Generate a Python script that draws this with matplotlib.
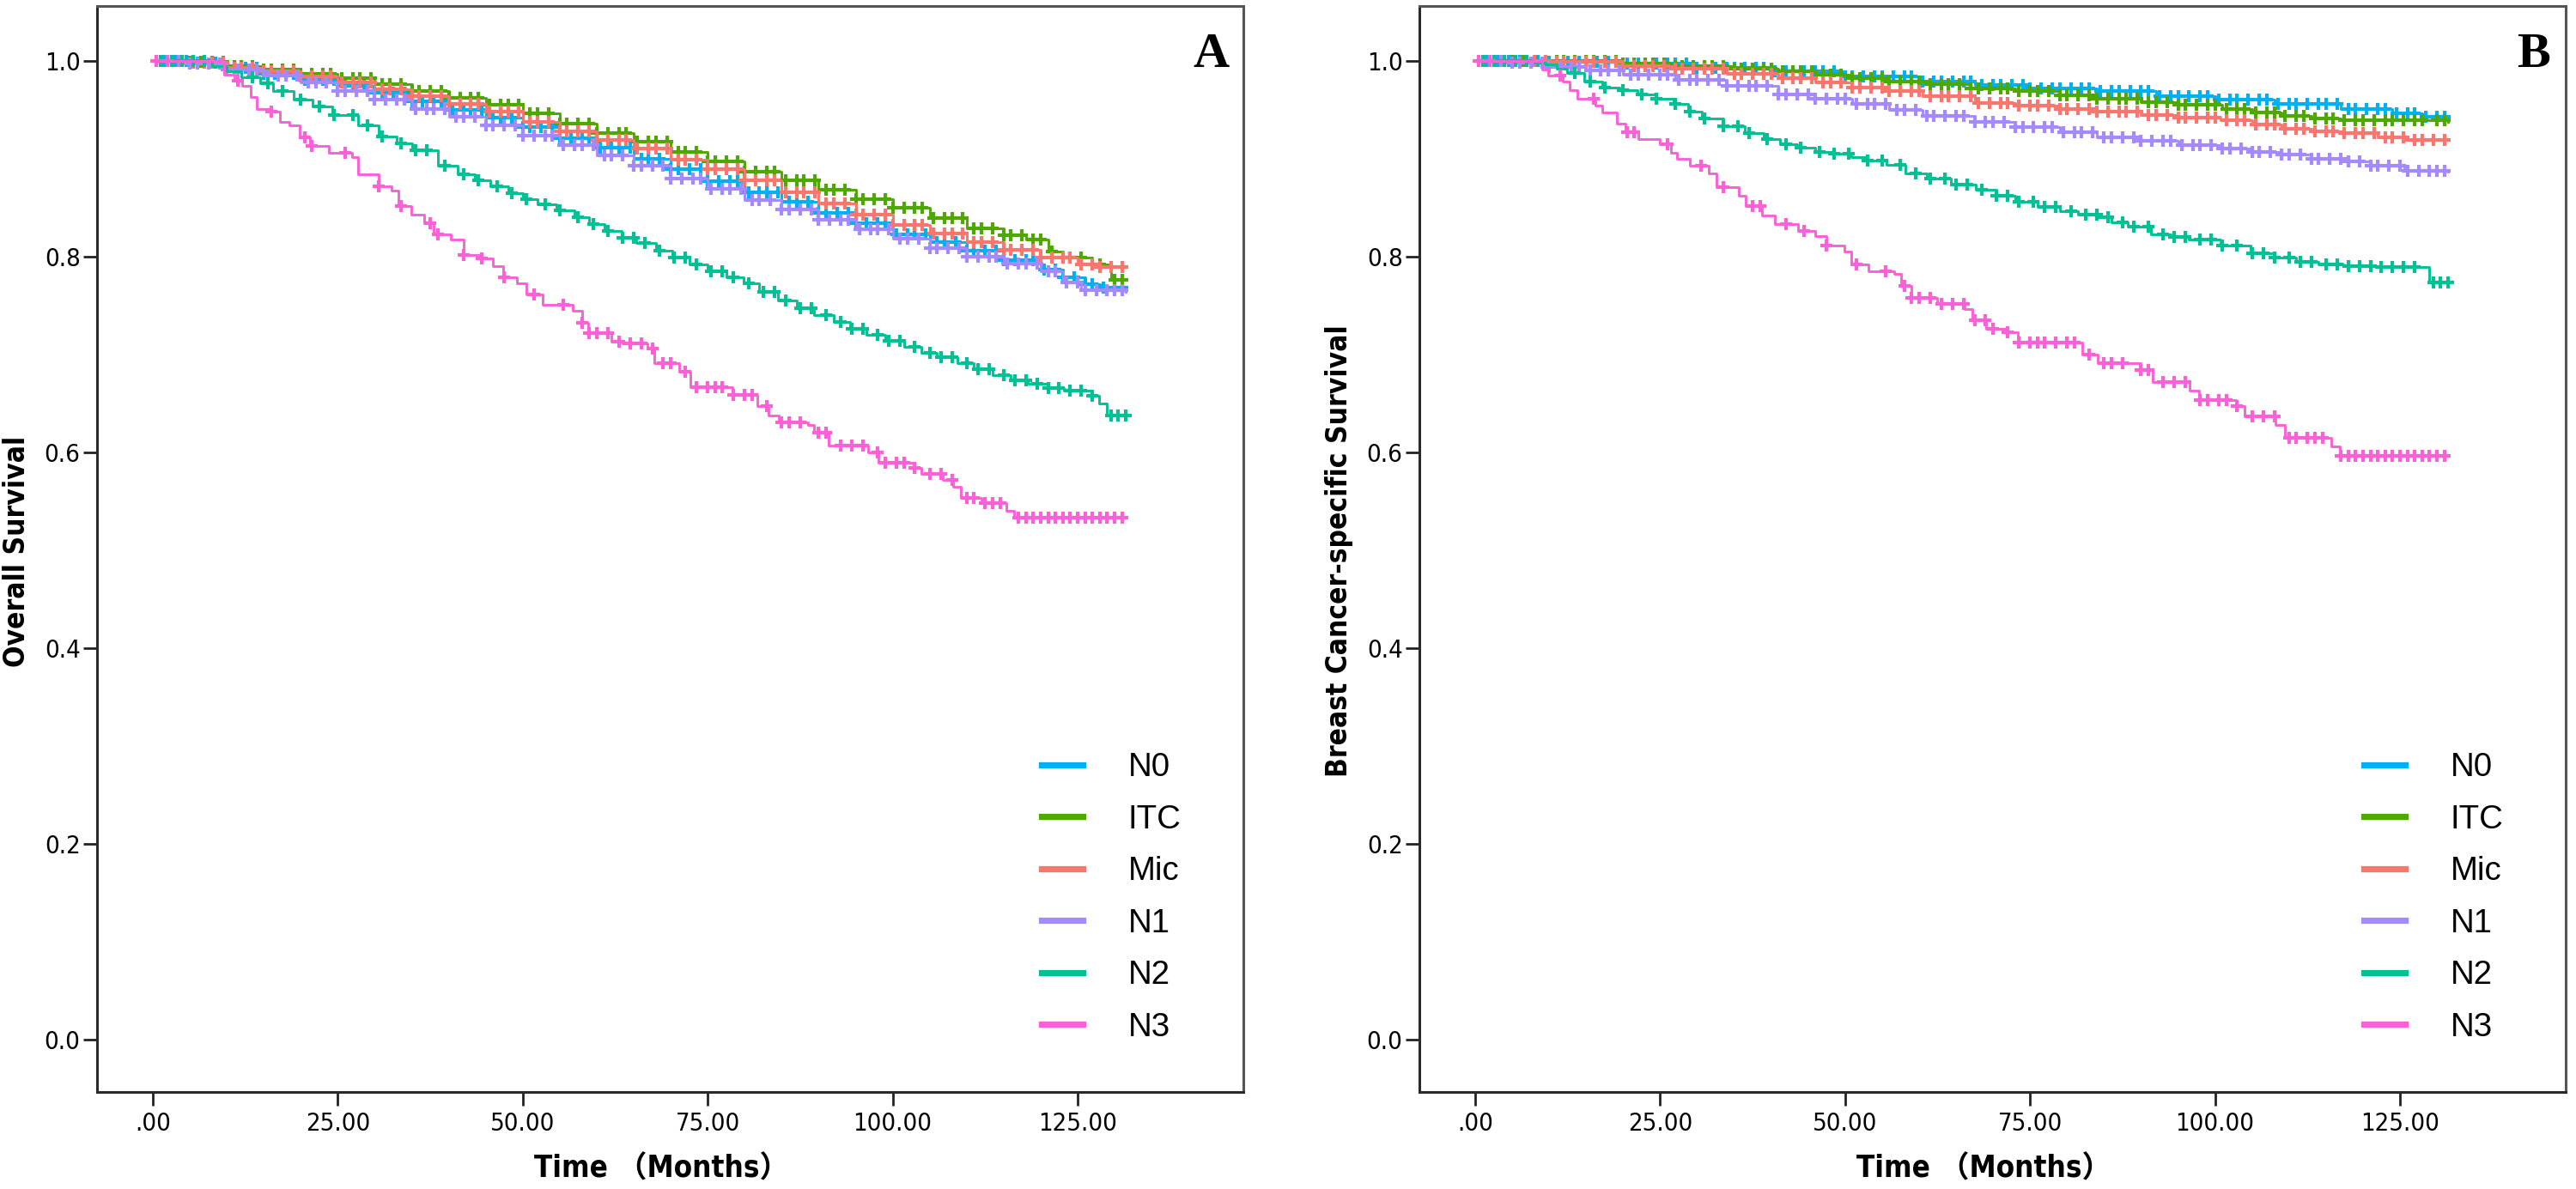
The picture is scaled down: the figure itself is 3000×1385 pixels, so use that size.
import numpy as np
import matplotlib
matplotlib.use("Agg")
import matplotlib.pyplot as plt
from matplotlib.lines import Line2D
from matplotlib import font_manager as fm

# ---------------- data ----------------
groups = ["N0", "ITC", "Mic", "N1", "N2", "N3"]
colors = ["#00B0F0", "#4FA800", "#F8766D", "#A58AFF", "#00C094", "#FB61D7"]

# Panel A: Overall survival (step times, survival)
A_N0_t = [0, 5, 10, 15, 20, 25, 30, 35, 40, 45, 50, 55, 60, 65, 70, 75, 80, 85, 90, 95, 100, 105, 110, 115, 120, 123, 126, 128, 131.5]
A_N0_s = [1.0, .998, .993, .987, .981, .974, .967, .959, .950, .942, .932, .921, .911, .900, .889, .877, .866, .856, .845, .834, .823, .815, .806, .796, .787, .779, .772, .768, .765]
A_ITC_t = [0, 5, 10, 15, 20, 25, 30, 35, 40, 45, 50, 55, 60, 65, 70, 75, 80, 85, 90, 95, 100, 105, 110, 115, 118, 121, 123, 127, 129.5, 131.5]
A_ITC_s = [1.0, .999, .995, .991, .987, .982, .976, .969, .962, .955, .946, .936, .926, .917, .907, .897, .887, .878, .868, .859, .850, .839, .829, .822, .817, .805, .799, .792, .776, .776]
A_Mic_t = [0, 5, 10, 15, 20, 25, 30, 35, 40, 45, 50, 55, 60, 65, 70, 75, 80, 85, 90, 95, 100, 105, 110, 115, 120, 125, 128, 131.5]
A_Mic_s = [1.0, .998, .993, .989, .984, .978, .971, .964, .956, .948, .938, .928, .919, .910, .899, .889, .878, .866, .854, .843, .832, .824, .815, .807, .799, .792, .789, .789]
A_N1_t = [0, 5, 10, 15, 20, 25, 30, 35, 40, 45, 50, 55, 60, 65, 70, 75, 80, 85, 90, 95, 100, 105, 110, 115, 120, 123, 125.5, 131.5]
A_N1_s = [1.0, .997, .991, .985, .978, .969, .960, .951, .943, .934, .924, .914, .903, .893, .880, .869, .858, .848, .838, .828, .818, .809, .800, .793, .785, .774, .766, .764]
A_N2_t = [0, 8, 10, 12, 14.5, 16.3, 19, 21.6, 24.3, 27.8, 30.5, 33, 35, 38.5, 41.2, 43.5, 45.6, 48, 50, 52, 54.5, 57, 59, 61, 63.4, 65.4, 68, 70.2, 72.5, 75, 77.5, 79.8, 82, 84.5, 87, 89.4, 92, 94.2, 96.5, 99, 101.5, 103.9, 106, 108.7, 111, 113.5, 116, 118.3, 121, 123.1, 127, 127.9, 128.9, 131.5]
A_N2_s = [1.0, .995, .989, .983, .977, .969, .960, .953, .945, .934, .923, .916, .909, .893, .884, .878, .872, .865, .859, .853, .847, .840, .833, .826, .819, .814, .806, .799, .792, .785, .779, .773, .764, .755, .747, .740, .733, .726, .720, .714, .708, .702, .697, .691, .685, .679, .674, .670, .666, .663, .658, .650, .638, .638]
A_N3_t = [0, 9.6, 11, 12.1, 13.2, 14.1, 15.8, 17.2, 18.5, 19.8, 21.2, 23.8, 26.9, 27.8, 30.5, 32.3, 33.2, 34.9, 36.7, 38.0, 40.3, 42.0, 44.3, 46.0, 47.4, 49.2, 50.5, 52.7, 56.7, 58.0, 58.9, 62.0, 63.5, 66.8, 67.8, 71.2, 72.6, 78.4, 81.7, 83.2, 84.6, 88.5, 89.4, 91.4, 96.7, 98.1, 102.9, 103.9, 106.8, 108.2, 109.2, 112.0, 115.4, 116.4, 131.5]
A_N3_s = [1.0, .986, .980, .974, .963, .951, .948, .938, .934, .922, .913, .906, .902, .884, .872, .867, .852, .843, .834, .823, .817, .802, .798, .790, .779, .773, .761, .751, .745, .732, .722, .713, .711, .706, .691, .682, .667, .659, .647, .638, .631, .628, .620, .607, .600, .589, .584, .578, .572, .565, .553, .548, .540, .533, .533]

# Panel B: Breast cancer-specific survival
B_N0_t = [0, 10, 20, 30, 40, 50, 60, 67.5, 75, 84, 92, 100, 108, 117, 124, 128, 131.5]
B_N0_s = [1.0, .999, .997, .993, .989, .984, .979, .975, .972, .969, .964, .960, .956, .951, .946, .943, .942]
B_ITC_t = [0, 10, 20, 27, 35, 41, 46, 51, 56, 61, 67, 73, 79, 84, 90, 95, 101, 105, 109, 113, 117, 131.5]
B_ITC_s = [1.0, .9995, .997, .995, .992, .989, .986, .982, .979, .976, .972, .969, .965, .961, .958, .955, .951, .947, .944, .941, .939, .938]
B_Mic_t = [0, 10, 20, 27, 34, 41, 46, 51, 56, 60.5, 67.5, 73, 79, 84, 90, 95, 100.7, 105, 109, 113, 117.3, 122, 125.6, 131.5]
B_Mic_s = [1.0, .999, .995, .992, .987, .982, .978, .973, .969, .964, .957, .954, .951, .948, .945, .942, .939, .935, .931, .928, .926, .922, .919, .919]
B_N1_t = [0, 5, 10, 15, 20, 27, 34, 41, 46, 51, 56, 60.5, 67.5, 73, 79, 84, 90, 95, 100.7, 105, 109, 113, 117.3, 121, 125.6, 131.5]
B_N1_s = [1.0, .998, .994, .990, .986, .981, .974, .966, .961, .956, .950, .944, .938, .932, .927, .922, .918, .914, .910, .907, .904, .900, .897, .893, .888, .887]
B_N2_t = [0, 8, 9.5, 11, 12.4, 14.8, 17.2, 19.5, 21.9, 24.5, 26.8, 28.8, 30.6, 33.5, 36.4, 39, 41.2, 43.5, 46, 48.5, 50.8, 53, 55.6, 58.1, 61, 64.3, 67.7, 70.5, 73, 76, 79, 81.5, 84.1, 86, 88.2, 91.3, 94, 96.5, 100.7, 104.8, 108, 111, 114, 117.3, 122, 128.9, 131.5]
B_N2_s = [1.0, .998, .996, .992, .988, .979, .973, .970, .966, .961, .956, .948, .941, .933, .926, .920, .915, .911, .907, .905, .902, .898, .894, .885, .880, .874, .868, .862, .856, .851, .846, .843, .840, .835, .831, .823, .820, .817, .811, .803, .799, .795, .792, .790, .789, .774, .774]
B_N3_t = [0, 9.0, 9.9, 11.9, 12.8, 13.8, 16.2, 17.2, 19.1, 20.3, 22.0, 24.9, 26.5, 27.3, 29.0, 31.6, 32.6, 35.6, 36.6, 38.8, 40.5, 43.6, 46.0, 47.5, 49.9, 50.8, 53.2, 56.6, 57.6, 59.0, 62.4, 66.2, 67.2, 69.1, 71.7, 73.3, 82.1, 84.1, 89.9, 91.6, 96.6, 97.8, 102.8, 104.0, 108.2, 109.4, 115.7, 116.9, 131.5]
B_N3_s = [1.0, .991, .985, .979, .970, .961, .954, .947, .936, .927, .920, .915, .906, .900, .893, .885, .871, .862, .852, .842, .833, .826, .821, .811, .805, .792, .785, .782, .770, .758, .752, .746, .735, .726, .723, .712, .700, .691, .684, .672, .663, .653, .647, .637, .628, .615, .606, .596, .596]

# Censoring times per group (shared by both endpoints)
cens_N0 = [1.5, 3, 4.5, 6, 7, 8.5, 10, 11, 12.5, 14, 15, 16.5, 18, 19, 20.5, 22, 23, 24.5, 26, 27, 28.5, 30, 31, 32.5, 34, 35, 36.5, 38, 39, 40.5, 42, 43, 44.5, 46, 47, 48.5, 50, 51, 52.5, 54, 55, 56.5, 58, 59, 60.5, 62, 63, 64.5, 66, 67, 68.5, 70, 71, 72.5, 74, 75, 76.5, 78, 79, 80.5, 82, 83, 84.5, 86, 87, 88.5, 90, 91, 92.5, 94, 95, 96.5, 98, 99, 100.5, 102, 103, 104.5, 106, 107, 108.5, 110, 111, 112.5, 114, 115, 116.5, 118, 119, 120.5, 122, 123, 124.5, 126, 127, 128.5, 130, 131]
cens_ITC = [2, 3.5, 5, 6.5, 8, 9.5, 11, 12, 13.5, 15, 16, 17.5, 19, 20, 21.5, 23, 24, 25.5, 27, 28, 29.5, 31, 32, 33.5, 35, 36, 37.5, 39, 40, 41.5, 43, 44, 45.5, 47, 48, 49.5, 51, 52, 53.5, 55, 56, 57.5, 59, 60, 61.5, 63, 64, 65.5, 67, 68, 69.5, 71, 72, 73.5, 75, 76, 77.5, 79, 80, 81.5, 83, 84, 85.5, 87, 88, 89.5, 91, 92, 93.5, 95, 96, 97.5, 99, 100, 101.5, 103, 104, 105.5, 107, 108, 109.5, 111, 112, 113.5, 115, 116, 117.5, 119, 120, 121.5, 123, 124, 125.5, 127, 128, 130, 131]
cens_Mic = [2.5, 4, 5.5, 7, 8, 9.5, 11, 12, 13.5, 15, 16, 17.5, 19, 20, 21.5, 23, 24, 25.5, 27, 28, 29.5, 31, 32, 33.5, 35, 36, 37.5, 39, 40, 41.5, 43, 44, 45.5, 47, 48, 49.5, 51, 52, 53.5, 55, 56, 57.5, 59, 60, 61.5, 63, 64, 65.5, 67, 68, 69.5, 71, 72, 73.5, 75, 76, 77.5, 79, 80, 81.5, 83, 84, 85.5, 87, 88, 89.5, 91, 92, 93.5, 95, 96, 97.5, 99, 100, 101.5, 103, 104, 105.5, 107, 108, 109.5, 111, 112, 113.5, 115, 116, 117.5, 119, 120, 121.5, 123, 124, 125.5, 127, 128, 129.5, 131]
cens_N1 = [1, 2, 3.5, 5, 6, 7.5, 9, 10, 11.5, 13, 14, 15.5, 17, 18, 19.5, 21, 22, 23.5, 25, 26, 27.5, 29, 30, 31.5, 33, 34, 35.5, 37, 38, 39.5, 41, 42, 43.5, 45, 46, 47.5, 49, 50, 51.5, 53, 54, 55.5, 57, 58, 59.5, 61, 62, 63.5, 65, 66, 67.5, 69, 70, 71.5, 73, 74, 75.5, 77, 78, 79.5, 81, 82, 83.5, 85, 86, 87.5, 89, 90, 91.5, 93, 94, 95.5, 97, 98, 99.5, 101, 102, 103.5, 105, 106, 107.5, 109, 110, 111.5, 113, 114, 115.5, 117, 118, 119.5, 121, 122, 123.5, 125, 126, 127.5, 129, 130, 131]
cens_N2 = [1, 2.5, 4, 5.5, 7, 13.5, 15.5, 17.5, 20, 22.5, 24.5, 27, 29, 31, 33.5, 35.5, 37, 39.5, 42, 44, 46.5, 48.5, 50.5, 53, 55, 57.5, 59.5, 61.5, 63.5, 65, 66.5, 68.5, 70.5, 72, 73.5, 75.5, 77, 78.5, 80.5, 82.5, 84, 85.5, 87.5, 89, 91, 93, 94.5, 96, 98, 99.5, 101, 103, 105, 106.5, 108, 110, 111.5, 113, 115, 116.5, 118, 119.5, 121, 122.5, 124, 125.5, 127, 129.5, 130.5, 131.5]
cens_N3 = [0.5, 2, 11.5, 16, 20.5, 21.5, 26, 30.5, 33.5, 37.5, 38.5, 42, 44.5, 47.5, 51.5, 55.5, 58, 59, 60, 61.5, 63, 64.5, 66, 67.5, 69, 70, 72, 73.5, 75, 76, 77, 78.5, 80, 81, 83, 85, 86, 87.5, 90, 91, 93, 94.5, 96, 98, 99, 100.5, 101.5, 103, 105, 106.5, 108, 110, 111, 112.5, 113.5, 114.5, 117, 118, 119, 120, 121, 122, 123, 124, 125, 126, 127, 128, 129, 130, 131]

panel_A = [(A_N0_t, A_N0_s), (A_ITC_t, A_ITC_s), (A_Mic_t, A_Mic_s),
           (A_N1_t, A_N1_s), (A_N2_t, A_N2_s), (A_N3_t, A_N3_s)]
panel_B = [(B_N0_t, B_N0_s), (B_ITC_t, B_ITC_s), (B_Mic_t, B_Mic_s),
           (B_N1_t, B_N1_s), (B_N2_t, B_N2_s), (B_N3_t, B_N3_s)]
censors = [cens_N0, cens_ITC, cens_Mic, cens_N1, cens_N2, cens_N3]

x_ticks = [0, 25, 50, 75, 100, 125]
x_ticklabels = [".00", "25.00", "50.00", "75.00", "100.00", "125.00"]
y_ticks = [0.0, 0.2, 0.4, 0.6, 0.8, 1.0]
y_ticklabels = ["0.0", "0.2", "0.4", "0.6", "0.8", "1.0"]

# ---------------- fonts ----------------
names = {f.name for f in fm.fontManager.ttflist}
cond_dejavu = any(f.name == "DejaVu Sans" and f.stretch in ("condensed", "semi-condensed")
                  for f in fm.fontManager.ttflist)
if "Liberation Sans Narrow" in names:
    narrow = ["Liberation Sans Narrow", "Noto Sans CJK SC"]
    nstretch = "normal"
elif cond_dejavu:
    narrow = ["DejaVu Sans", "Noto Sans CJK SC"]
    nstretch = "condensed"
else:
    narrow = ["Liberation Sans", "Noto Sans CJK SC"]
    nstretch = "normal"

# ---------------- figure ----------------
W, H = 3000, 1385
fig = plt.figure(figsize=(15, 6.925), dpi=200)


def make_axes(left_px):
    return fig.add_axes([left_px / W, (H - 1272) / H, 1335 / W, 1265 / H])


def draw_panel(ax, data, ylabel, letter, ylab_x, xlab_x, letter_x):
    for (t, s), c, cen in zip(data, colors, censors):
        t = np.asarray(t, float)
        s = np.asarray(s, float)
        ax.plot(t, s, drawstyle="steps-post", color=c, lw=1.05, zorder=3)
        cen = np.asarray(cen, float)
        idx = np.searchsorted(t, cen, side="right") - 1
        ax.plot(cen, s[idx], ls="none", marker="+", ms=4.8, mew=1.5,
                color=c, zorder=3)
    ax.set_xlim(-7.54, 147.4)
    ax.set_ylim(-0.0535, 1.056)
    ax.set_xticks(x_ticks)
    ax.set_xticklabels(x_ticklabels, family=narrow, stretch=nstretch, fontsize=10.5)
    ax.set_yticks(y_ticks)
    ax.set_yticklabels(y_ticklabels, family=narrow, stretch=nstretch, fontsize=10.5)
    ax.tick_params(axis="both", direction="out", length=5.8, width=1.0,
                   color="#222222")
    ax.tick_params(axis="y", pad=1.2)
    ax.tick_params(axis="x", pad=2.5)
    for side in ["left", "bottom"]:
        ax.spines[side].set_color("#2a2a2a")
        ax.spines[side].set_linewidth(1.1)
    for side in ["top", "right"]:
        ax.spines[side].set_color("#555555")
        ax.spines[side].set_linewidth(1.1)

    handles = [Line2D([], [], color=c, lw=2.6) for c in colors]
    ax.legend(handles, groups, loc="center left",
              bbox_to_anchor=(0.824, 0.179), frameon=False,
              prop={"family": ["Liberation Sans", "DejaVu Sans"], "size": 13.8},
              handlelength=1.26, handletextpad=1.36, labelspacing=0.64,
              borderpad=0, borderaxespad=0)

    fig.text(ylab_x / W, (H - 642) / H, ylabel, rotation=90, ha="center",
             va="center", family=narrow, stretch=nstretch, fontsize=12,
             fontweight="bold")
    fig.text(xlab_x / W, (H - 1362) / H, "Time （Months）", ha="center",
             va="center", family=narrow, stretch=nstretch, fontsize=12.5,
             fontweight="bold")
    fig.text(letter_x / W, (H - 64) / H, letter, ha="center", va="center",
             family=["Liberation Serif", "DejaVu Serif"], fontsize=21,
             fontweight="bold")


axA = make_axes(113)
draw_panel(axA, panel_A, "Overall Survival", "A", 20, 771, 1410)
axB = make_axes(1653)
draw_panel(axB, panel_B, "Breast Cancer-specific Survival", "B", 1560, 2311, 2950)

fig.savefig("out.png", dpi=200, facecolor="white")
